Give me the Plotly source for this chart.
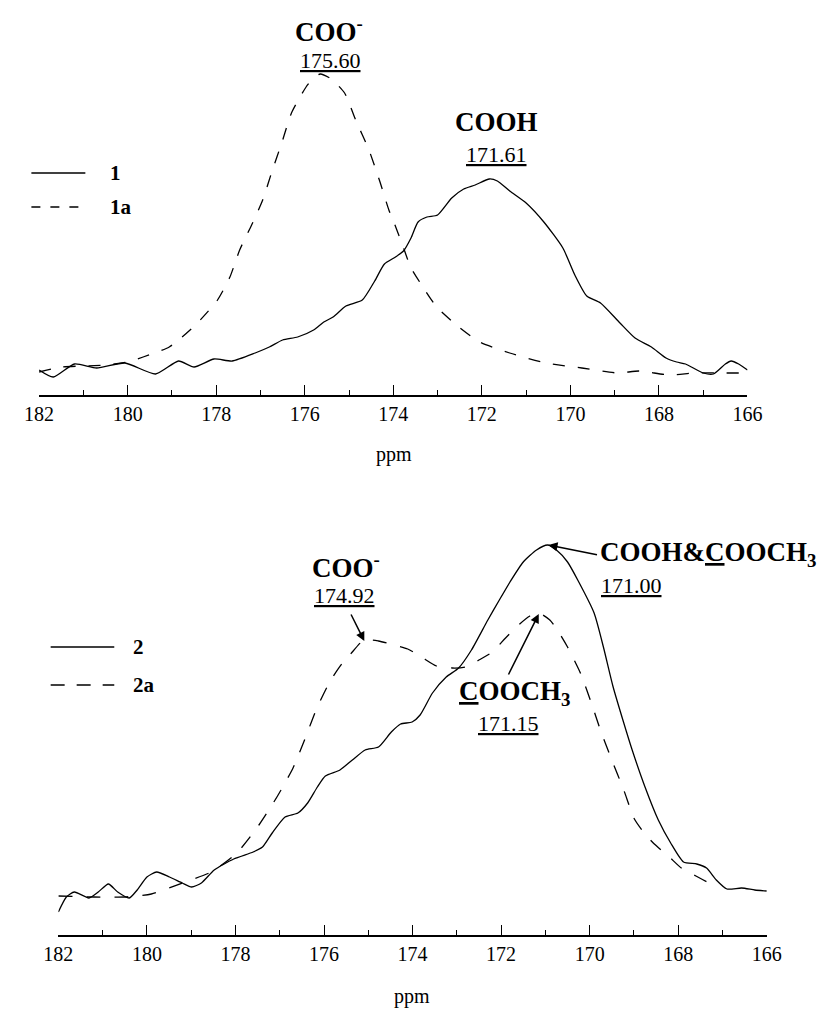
import plotly.graph_objects as go

# ---------------- data ----------------
# Top panel: spectra 1 (solid) and 1a (dashed); intensity in arbitrary units
ppm_1 = [182.0, 181.68, 181.2, 180.7, 180.06, 179.37, 178.85, 178.5, 178.05, 177.64,
         177.12, 176.8, 176.5, 176.16, 175.8, 175.57, 175.36, 175.07, 174.7, 174.42,
         174.2, 173.95, 173.77, 173.6, 173.44, 173.24, 173.0, 172.68, 172.41, 172.15,
         171.83, 171.65, 171.37, 171.0, 170.6, 170.17, 169.9, 169.63, 169.32, 168.88,
         168.54, 168.17, 167.84, 167.6, 167.4, 167.0, 166.77, 166.5, 166.37, 166.2, 166.0]
int_1 = [25, 18, 31, 27, 32, 21, 34, 28, 36, 34,
         42, 48, 55, 58, 65, 73, 78, 89, 95, 114,
         131, 138, 144, 157, 173, 178, 180, 197, 206, 210,
         216, 214, 204, 192, 173, 147, 120, 99, 92, 72,
         57, 48, 37, 33, 31, 22, 21, 31, 34, 31, 25]

ppm_1a = [182.0, 181.5, 181.0, 180.5, 180.0, 179.65, 179.06, 178.47, 177.97, 177.69,
          177.47, 177.2, 176.95, 176.73, 176.52, 176.3, 175.97, 175.8, 175.65, 175.4,
          175.1, 174.85, 174.55, 174.3, 174.1, 173.98, 173.76, 173.61, 173.39, 173.02,
          172.52, 172.05, 171.37, 170.55, 169.74, 168.93, 168.45, 167.76, 167.2, 166.6, 166.0]
int_1a = [23, 28, 29, 30, 33, 38, 48, 70, 95, 118,
          145, 170, 195, 225, 252, 282, 308, 317, 321, 316,
          302, 275, 245, 213, 185, 172, 146, 128, 112, 88,
          68, 53, 42, 32, 27, 22, 24, 20, 22, 22, 22]

# Bottom panel: spectra 2 (solid) and 2a (dashed)
ppm_2 = [182.0, 181.82, 181.64, 181.31, 181.1, 180.87, 180.66, 180.4, 180.22, 180.0,
         179.78, 179.49, 179.2, 178.99, 178.77, 178.48, 178.04, 177.6, 177.39, 177.17,
         176.88, 176.59, 176.37, 176.15, 175.97, 175.64, 175.36, 175.07, 174.77, 174.48,
         174.27, 174.01, 173.83, 173.55, 173.24, 172.96, 172.67, 172.3, 172.04, 171.8,
         171.5, 171.2, 170.95, 170.75, 170.5, 170.27, 169.9, 169.69, 169.47, 169.25,
         169.04, 168.75, 168.45, 168.17, 167.88, 167.58, 167.36, 167.14, 166.9, 166.57,
         166.27, 166.0]
int_2 = [23, 38, 43, 37, 43, 51, 43, 37, 45, 58,
         63, 58, 52, 48, 52, 65, 76, 83, 88, 102,
         118, 122, 132, 148, 159, 165, 175, 185, 188, 203,
         211, 213, 220, 242, 258, 267, 285, 315, 335, 353,
         373, 385, 390, 385, 373, 355, 322, 288, 248, 215,
         185, 148, 115, 92, 73, 71, 67, 55, 46, 47,
         45, 44]

ppm_2a = [182.0, 181.2, 180.5, 179.9, 179.2, 178.55, 177.97, 177.47, 177.05, 176.7,
          176.44, 176.17, 175.86, 175.6, 175.4, 175.1, 174.77, 174.42, 174.11, 173.8,
          173.46, 173.1, 172.8, 172.5, 172.2, 171.9, 171.58, 171.35, 171.15, 170.9,
          170.7, 170.5, 170.2, 169.97, 169.75, 169.5, 169.23, 168.99, 168.75, 168.54,
          168.2, 167.93, 167.6, 167.3, 167.1]
int_2a = [39, 38, 38, 41, 52, 63, 82, 110, 139, 167,
          195, 226, 254, 271, 281, 295, 294, 290, 286, 278,
          269, 267, 268, 275, 283, 297, 311, 319, 322, 315,
          303, 288, 261, 233, 204, 175, 145, 116, 101, 91,
          78, 67, 59, 52, 48]

tick_vals = [182, 180, 178, 176, 174, 172, 170, 168, 166]
tick_text = [str(v) for v in tick_vals]

# ---------------- layout helpers ----------------
W, H = 829, 1010
SERIF = "Liberation Serif"


def px(x):
    return x / W


def py(y):
    return 1 - y / H


fig = go.Figure()

line_solid = dict(color="black", width=1.3, shape="spline", smoothing=0.6)

fig.add_trace(go.Scatter(x=ppm_1, y=int_1, mode="lines", line=line_solid, name="1",
                         xaxis="x", yaxis="y", showlegend=False))
fig.add_trace(go.Scatter(x=ppm_1a, y=int_1a, mode="lines",
                         line=dict(color="black", width=1.3, shape="spline", smoothing=0.6,
                                   dash="12px,13px"),
                         name="1a", xaxis="x", yaxis="y", showlegend=False))
fig.add_trace(go.Scatter(x=ppm_2, y=int_2, mode="lines", line=line_solid, name="2",
                         xaxis="x2", yaxis="y2", showlegend=False))
fig.add_trace(go.Scatter(x=ppm_2a, y=int_2a, mode="lines",
                         line=dict(color="black", width=1.3, shape="spline", smoothing=0.6,
                                   dash="14px,14px"),
                         name="2a", xaxis="x2", yaxis="y2", showlegend=False))

xaxis_common = dict(
    range=[182, 166], autorange=False,
    showline=True, linecolor="black", linewidth=2,
    ticks="inside", ticklen=10, tickwidth=1.3, tickcolor="black",
    tickvals=tick_vals, ticktext=tick_text,
    minor=dict(dtick=1, tick0=166, ticks="inside", ticklen=5, tickwidth=1.2, tickcolor="black"),
    showgrid=False, zeroline=False,
    tickfont=dict(family=SERIF, size=20, color="black"),
    fixedrange=True,
)

fig.update_layout(
    width=W, height=H, autosize=False,
    margin=dict(l=0, r=0, t=0, b=0),
    paper_bgcolor="white", plot_bgcolor="white",
    showlegend=False,
    xaxis=dict(domain=[px(25), px(760)], anchor="y", **xaxis_common),
    yaxis=dict(domain=[py(395), py(20)], range=[0, 375], visible=False, fixedrange=True),
    xaxis2=dict(domain=[px(45), px(780)], anchor="y2", **xaxis_common),
    yaxis2=dict(domain=[py(935), py(520)], range=[0, 415], visible=False, fixedrange=True),
)

bold = dict(family=SERIF, size=27, color="black")
num = dict(family=SERIF, size=22, color="black")
leg = dict(family=SERIF, size=21, color="black")
annots = [
    # top panel labels
    dict(x=px(326), y=py(30), text="<b>COO<sup>-</sup></b>", font=bold),
    dict(x=px(327), y=py(60), text="<u>175.60</u>", font=num),
    dict(x=px(500), y=py(122), text="<b>COOH</b>", font=bold),
    dict(x=px(500), y=py(154), text="<u>171.61</u>", font=num),
    dict(x=px(393), y=py(455), text="ppm", font=dict(family=SERIF, size=20, color="black")),
    # top legend
    dict(x=px(96), y=py(173), text="<b>1</b>", font=leg, xanchor="left"),
    dict(x=px(96), y=py(207), text="<b>1a</b>", font=leg, xanchor="left"),
    # bottom panel labels
    dict(x=px(343), y=py(566), text="<b>COO<sup>-</sup></b>", font=bold),
    dict(x=px(342), y=py(595), text="<u>174.92</u>", font=num),
    dict(x=px(605), y=py(554), text="<b>COOH&amp;<u>C</u>OOCH<sub>3</sub></b>", font=bold,
         xanchor="left"),
    dict(x=px(640), y=py(585), text="<u>171.00</u>", font=num),
    dict(x=px(518), y=py(693), text="<b><u>C</u>OOCH<sub>3</sub></b>", font=bold),
    dict(x=px(512), y=py(723), text="<u>171.15</u>", font=num),
    dict(x=px(412), y=py(996), text="ppm", font=dict(family=SERIF, size=20, color="black")),
    # bottom legend
    dict(x=px(120), y=py(647), text="<b>2</b>", font=leg, xanchor="left"),
    dict(x=px(120), y=py(685), text="<b>2a</b>", font=leg, xanchor="left"),
]
for a in annots:
    a.setdefault("xref", "paper")
    a.setdefault("yref", "paper")
    a.setdefault("xanchor", "center")
    a.setdefault("yanchor", "middle")
    a.setdefault("showarrow", False)
    fig.add_annotation(**a)

# arrows pointing to peaks
arrow_style = dict(showarrow=True, arrowhead=2, arrowsize=1.2, arrowwidth=1.5,
                   arrowcolor="black", text="", axref="pixel", ayref="pixel")
fig.add_annotation(x=175.09, y=294, xref="x2", yref="y2", ax=-14, ay=-28, **arrow_style)
fig.add_annotation(x=171.15, y=321, xref="x2", yref="y2", ax=-31, ay=62, **arrow_style)
fig.add_annotation(x=170.93, y=390, xref="x2", yref="y2", ax=50, ay=10, **arrow_style)

# hand-drawn legend lines
shapes = [
    dict(x0=px(17), x1=px(73), y0=py(173), y1=py(173), dash="solid"),
    dict(x0=px(17), x1=px(73), y0=py(207), y1=py(207), dash="9px,10px"),
    dict(x0=px(37), x1=px(103), y0=py(647), y1=py(647), dash="solid"),
    dict(x0=px(37), x1=px(103), y0=py(685), y1=py(685), dash="14px,12px"),
]
for s in shapes:
    fig.add_shape(type="line", xref="paper", yref="paper",
                  x0=s["x0"], x1=s["x1"], y0=s["y0"], y1=s["y1"],
                  line=dict(color="black", width=1.3, dash=s["dash"]))

fig.write_html(
    "out.html",
    config={"displayModeBar": False},
    post_script="document.body.style.margin='0';document.body.style.overflow='hidden';",
)
